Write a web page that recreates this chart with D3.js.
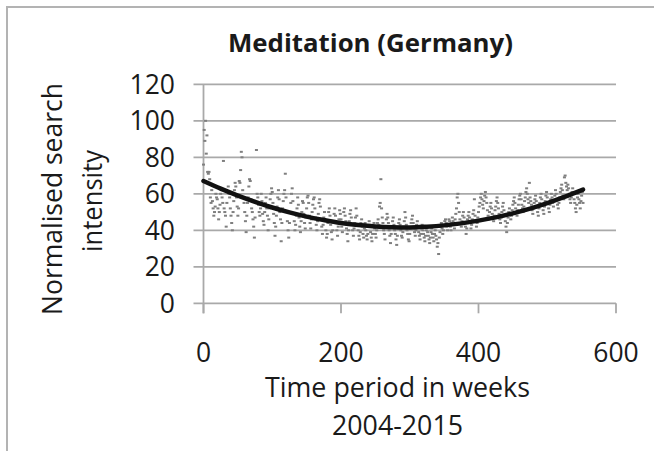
<!DOCTYPE html>
<html>
<head>
<meta charset="utf-8">
<script src="https://cdn.jsdelivr.net/npm/d3@7"></script>
<style>
  html, body { margin: 0; padding: 0; background: #fff; }
  svg { display: block; }
  text { font-family: "Open Sans", "Noto Sans", sans-serif; fill: #1a1a1a; }
</style>
</head>
<body>
<svg id="chart" width="654" height="451"></svg>
<script>
// ---- data ----
const title = "Meditation (Germany)";
const xTitle = ["Time period in weeks", "2004-2015"];
const yTitle = ["Normalised search", "intensity"];
const xTicks = [0, 200, 400, 600];
const yTicks = [0, 20, 40, 60, 80, 100, 120];

// weekly normalised search intensity, week 0 .. 552
const searchIntensity = [
  76, 95, 89, 100, 82, 92, 72, 71, 72, 68, 58, 55, 62, 56, 52, 48, 50, 53, 60, 58, 57, 52, 46, 50, 54,
  60, 62, 58, 55, 78, 52, 50, 48, 42, 55, 61, 64, 60, 58, 52, 48, 44, 40, 50, 56, 62, 66, 64, 58, 53,
  48, 52, 67, 66, 73, 83, 80, 62, 58, 55, 50, 45, 39, 48, 55, 58, 64, 68, 67, 57, 52, 50, 46, 42, 36,
  47, 55, 84, 60, 58, 54, 50, 48, 52, 60, 56, 49, 45, 43, 50, 55, 58, 52, 48, 40, 46, 52, 57, 60, 63,
  61, 55, 49, 44, 37, 42, 48, 53, 58, 62, 57, 50, 46, 34, 44, 52, 56, 60, 62, 71, 58, 50, 45, 40, 36,
  44, 50, 55, 60, 63, 56, 49, 45, 40, 43, 48, 52, 58, 54, 47, 42, 39, 45, 50, 56, 55, 49, 44, 41, 47,
  52, 58, 59, 55, 48, 44, 41, 46, 50, 54, 57, 58, 52, 47, 43, 40, 45, 49, 55, 57, 53, 46, 42, 38, 43,
  47, 50, 45, 40, 36, 38, 44, 50, 52, 48, 43, 39, 35, 40, 45, 49, 52, 48, 44, 40, 37, 42, 46, 51, 49,
  46, 42, 39, 44, 50, 52, 48, 45, 41, 38, 34, 40, 45, 49, 51, 47, 43, 40, 37, 41, 44, 47, 52, 48, 43,
  40, 37, 35, 39, 44, 46, 42, 38, 36, 41, 44, 40, 37, 35, 38, 42, 45, 43, 39, 36, 34, 38, 42, 44, 41,
  38, 36, 40, 44, 46, 43, 53, 55, 68, 52, 47, 44, 40, 38, 35, 42, 46, 49, 47, 44, 40, 37, 33, 38, 42,
  45, 47, 43, 40, 38, 35, 32, 37, 41, 44, 46, 43, 40, 37, 36, 39, 42, 45, 50, 47, 43, 40, 38, 35, 34,
  38, 41, 44, 46, 48, 44, 41, 39, 37, 40, 43, 45, 42, 39, 37, 35, 38, 41, 43, 40, 38, 36, 34, 37, 40,
  42, 39, 37, 35, 33, 36, 39, 41, 38, 36, 34, 38, 40, 37, 35, 31, 33, 27, 36, 39, 42, 44, 41, 38, 40,
  43, 45, 46, 44, 42, 40, 43, 46, 45, 42, 40, 44, 47, 45, 43, 41, 46, 49, 52, 58, 60, 55, 50, 46, 44,
  42, 45, 48, 50, 47, 44, 42, 38, 41, 46, 48, 50, 47, 44, 41, 43, 46, 49, 51, 57, 48, 45, 42, 44, 47,
  50, 53, 55, 58, 60, 57, 54, 52, 56, 59, 61, 58, 55, 51, 48, 46, 50, 53, 55, 52, 49, 47, 45, 48, 51,
  53, 56, 58, 55, 52, 49, 46, 44, 47, 50, 53, 55, 51, 48, 45, 42, 39, 44, 47, 50, 52, 49, 46, 48, 51,
  54, 56, 58, 55, 52, 50, 48, 51, 54, 57, 59, 60, 57, 54, 52, 50, 53, 56, 58, 61, 63, 60, 57, 55, 66,
  58, 56, 54, 51, 49, 52, 55, 57, 59, 56, 53, 50, 48, 52, 55, 58, 60, 57, 54, 51, 49, 53, 56, 59, 61,
  58, 55, 52, 50, 54, 57, 60, 58, 55, 53, 56, 59, 62, 60, 57, 54, 52, 55, 58, 61, 63, 65, 62, 59, 57,
  69, 70, 66, 64, 62, 65, 63, 60, 57, 55, 58, 61, 63, 60, 57, 55, 52, 50, 54, 58, 60, 57, 55, 52, 56,
  59, 61, 55
];

// polynomial trend line, read at 25-week steps
const trendWeeks  = [0, 25, 50, 75, 100, 125, 150, 175, 200, 225, 250, 275, 300, 325, 350, 375, 400, 425, 450, 475, 500, 525, 552];
const trendValues = [67.0, 62.8, 59.0, 55.6, 52.5, 49.8, 47.5, 45.6, 44.0, 42.9, 42.1, 41.7, 41.6, 42.0, 42.7, 43.8, 45.3, 47.1, 49.3, 51.9, 54.9, 58.3, 62.3];

// ---- drawing ----
const svg = d3.select("#chart");
const gridColor = "#a9a9a9";

const x = d3.scaleLinear().domain([0, 600]).range([203.5, 616]);
const y = d3.scaleLinear().domain([0, 120]).range([303.3, 84.3]);

// chart area border (only top and left visible in the crop)
svg.append("rect")
  .attr("x", 7).attr("y", 7).attr("width", 720).attr("height", 520)
  .attr("fill", "none").attr("stroke", "#b3b3b3").attr("stroke-width", 2);

// horizontal gridlines (+ outside tick on the left)
svg.append("g").selectAll("line").data(yTicks).join("line")
  .attr("x1", 193.5).attr("x2", x(600))
  .attr("y1", d => y(d)).attr("y2", d => y(d))
  .attr("stroke", gridColor).attr("stroke-width", 1.8);

// vertical axis line
svg.append("line")
  .attr("x1", x(0)).attr("x2", x(0))
  .attr("y1", y(120)).attr("y2", y(0) + 10)
  .attr("stroke", gridColor).attr("stroke-width", 1.8);

// x tick marks
svg.append("g").selectAll("line").data(xTicks).join("line")
  .attr("x1", d => x(d)).attr("x2", d => x(d))
  .attr("y1", y(0)).attr("y2", y(0) + 10)
  .attr("stroke", gridColor).attr("stroke-width", 1.8);

// y tick labels
svg.append("g").selectAll("text").data(yTicks).join("text")
  .attr("x", 175).attr("y", d => y(d) + 9.6)
  .attr("text-anchor", "end")
  .style("font-size", "26.5px")
  .text(d => d);

// x tick labels
svg.append("g").selectAll("text").data(xTicks).join("text")
  .attr("x", d => x(d)).attr("y", 362)
  .attr("text-anchor", "middle")
  .style("font-size", "26.5px")
  .text(d => d);

// scatter points
const pts = searchIntensity.map((v, i) => ({ week: i, value: v }));
svg.append("g").selectAll("rect").data(pts).join("rect")
  .attr("x", d => x(d.week) - 1.5)
  .attr("y", d => y(d.value) - 1)
  .attr("width", 3).attr("height", 2)
  .attr("fill", "#7f7f7f");

// trend line
const trend = trendWeeks.map((w, i) => ({ week: w, value: trendValues[i] }));
svg.append("path").datum(trend)
  .attr("d", d3.line().x(d => x(d.week)).y(d => y(d.value)).curve(d3.curveMonotoneX))
  .attr("fill", "none").attr("stroke", "#111").attr("stroke-width", 4.5)
  .attr("stroke-linecap", "round");

// title
svg.append("text")
  .attr("x", 370.5).attr("y", 52)
  .attr("text-anchor", "middle")
  .style("font-size", "25px").style("font-weight", "bold")
  .attr("textLength", 285).attr("lengthAdjust", "spacingAndGlyphs")
  .text(title);

// x-axis title
svg.append("g").selectAll("text").data(xTitle).join("text")
  .attr("x", 397.5).attr("y", (d, i) => 397 + i * 38)
  .attr("text-anchor", "middle")
  .style("font-size", "26.5px")
  .attr("textLength", (d, i) => i === 0 ? 265 : 131)
  .attr("lengthAdjust", "spacingAndGlyphs")
  .text(d => d);

// y-axis title (rotated)
svg.append("g").selectAll("text").data(yTitle).join("text")
  .attr("transform", (d, i) => `translate(${i === 0 ? 61.7 : 101.7},${i === 0 ? 199 : 201}) rotate(-90)`)
  .attr("text-anchor", "middle")
  .style("font-size", "26.5px")
  .attr("textLength", (d, i) => i === 0 ? 232 : 102)
  .attr("lengthAdjust", "spacingAndGlyphs")
  .text(d => d);
</script>
</body>
</html>
